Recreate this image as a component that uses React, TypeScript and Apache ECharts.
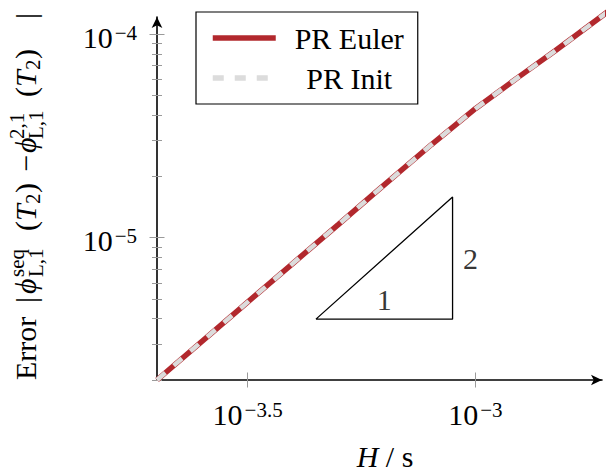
import React, { useEffect, useRef } from 'react';
import * as echarts from 'echarts';

const F = 'Liberation Serif, DejaVu Serif, serif';

// ---- data ----
const stepSizes = [2e-4, 3e-4, 4e-4, 5e-4, 6e-4, 8e-4, 1e-3, 1.25e-3, 1.5e-3, 2e-3];
const errEuler = [2.0e-6, 4.36e-6, 7.57e-6, 1.16e-5, 1.65e-5, 2.86e-5, 4.3e-5, 6.2e-5, 8.3e-5, 1.34e-4];
const errInit = [2.0e-6, 4.36e-6, 7.57e-6, 1.16e-5, 1.65e-5, 2.86e-5, 4.3e-5, 6.2e-5, 8.3e-5, 1.34e-4];
const seriesNames = ['PR Euler', 'PR Init'];

// slope triangle (order 2)
const triH = [4.4668e-4, 8.9125e-4, 8.9125e-4, 4.4668e-4];
const triErr = [3.981e-6, 3.981e-6, 1.5849e-5, 3.981e-6];
const slopeLabelH = [6.3096e-4, 8.9125e-4];
const slopeLabelErr = [3.981e-6, 7.9433e-6];
const slopeLabelText = ['1', '2'];

// axes (decimal exponents)
const xRange = [2e-4, 1.8972e-3];
const yRange = [2e-6, 1.2133e-4];
const xTickExps = [-3.5, -3];
const yTickExps = [-5, -4];
const yMinorTicks = [2e-6, 3e-6, 4e-6, 5e-6, 6e-6, 7e-6, 8e-6, 9e-6, 2e-5, 3e-5, 4e-5, 5e-5, 6e-5, 7e-5, 8e-5, 9e-5];

const lg = (v: number) => Math.log10(v);

const RED = '#b2282d';
const GRAY = '#dcdcdc';
const TICK = '#9a9a9a';
const FS = 30;
const SS = 21;

const labelRich = {
  b: { fontSize: FS, fontFamily: F, fontStyle: 'normal', fontWeight: 'normal', lineHeight: 30, color: '#000' },
  s: { fontSize: SS, fontFamily: F, fontStyle: 'normal', fontWeight: 'normal', lineHeight: 14, verticalAlign: 'top', color: '#000', padding: [0, 0, 0, 2] },
};
const fmtPow = (v: number) => `{b|10}{s|−${Math.abs(v)}}`;

function yTitle() {
  const B = 36, SUP = 24, SUB = 43, SUB2 = 40.5;
  const pieces: [string, number, number, number, boolean][] = [
    ['Error', 380, B, FS, false],
    ['|', 303, B, FS, false],
    ['ϕ', 294, B, FS, true],
    ['seq', 277, SUP, SS, false],
    ['L,1', 277, SUB, SS, false],
    ['(', 231, B, FS, false],
    ['T', 221, B, FS, true],
    ['2', 204, SUB2, SS, false],
    [')', 193, B, FS, false],
    ['−', 171.5, B, FS, false],
    ['ϕ', 153, B, FS, true],
    ['2,1', 139, SUP, SS, false],
    ['L,1', 139, SUB, SS, false],
    ['(', 97, B, FS, false],
    ['T', 87, B, FS, true],
    ['2', 70, SUB2, SS, false],
    [')', 59, B, FS, false],
    ['|', 19, B, FS, false],
  ];
  return pieces.map(([text, y, bx, size, it]) => ({
    type: 'text',
    x: bx - 0.3375 * size,
    y,
    rotation: Math.PI / 2,
    silent: true,
    style: {
      text,
      fontSize: size,
      fontFamily: F,
      fontStyle: it ? 'italic' : 'normal',
      fill: '#000',
      align: 'left',
      verticalAlign: 'middle',
      textAlign: 'left',
      textVerticalAlign: 'middle',
    },
  }));
}

function buildOption() {
  const xMin = lg(xRange[0]), xMax = lg(xRange[1]);
  const yMin = lg(yRange[0]), yMax = lg(yRange[1]);
  const yMinorLogs = yMinorTicks.map(lg);

  const baseX = { type: 'value', min: xMin, max: xMax, position: 'bottom', offset: 0, splitLine: { show: false } };
  const baseY = { type: 'value', min: yMin, max: yMax, position: 'left', offset: 0, splitLine: { show: false } };

  const xAxis = [
    {
      ...baseX,
      axisLine: { show: true, onZero: false, symbol: ['none', 'arrow'], symbolSize: [8, 11], lineStyle: { color: '#000', width: 1.6 } },
      axisTick: { show: true, customValues: xTickExps, length: 7.5, inside: false, lineStyle: { color: TICK, width: 1 } },
      axisLabel: { show: true, customValues: xTickExps, formatter: fmtPow, rich: labelRich, fontFamily: F, fontSize: FS, color: '#000', margin: 13, padding: [6, 0, 0, 0] },
      name: '{i|H} / s',
      nameLocation: 'middle',
      nameGap: 63,
      nameTextStyle: {
        fontSize: FS, fontFamily: F, color: '#000', lineHeight: 26, padding: [0, 0, 0, 11],
        rich: { i: { fontSize: FS, fontFamily: F, fontStyle: 'italic', color: '#000', lineHeight: 26 } },
      },
    },
    {
      ...baseX,
      axisLine: { show: false, onZero: false },
      axisTick: { show: true, customValues: xTickExps, length: 7.5, inside: true, lineStyle: { color: TICK, width: 1 } },
      axisLabel: { show: false },
    },
  ];

  const yAxis = [
    {
      ...baseY,
      axisLine: { show: true, onZero: false, symbol: ['none', 'arrow'], symbolSize: [8, 11], lineStyle: { color: '#000', width: 1.6 } },
      axisTick: { show: true, customValues: yTickExps, length: 7.5, inside: false, lineStyle: { color: TICK, width: 1 } },
      axisLabel: { show: true, customValues: yTickExps, formatter: fmtPow, rich: labelRich, fontFamily: F, fontSize: FS, color: '#000', margin: 20, padding: [6, 0, 0, 0] },
    },
    {
      ...baseY,
      axisLine: { show: false, onZero: false },
      axisTick: { show: true, customValues: yTickExps, length: 7.5, inside: true, lineStyle: { color: TICK, width: 1 } },
      axisLabel: { show: false },
    },
    {
      ...baseY,
      axisLine: { show: false, onZero: false },
      axisTick: { show: true, customValues: yMinorLogs, length: 5, inside: false, lineStyle: { color: TICK, width: 1 } },
      axisLabel: { show: false },
    },
    {
      ...baseY,
      axisLine: { show: false, onZero: false },
      axisTick: { show: true, customValues: yMinorLogs, length: 5, inside: true, lineStyle: { color: TICK, width: 1 } },
      axisLabel: { show: false },
    },
  ];

  const toPts = (hs: number[], es: number[]) => hs.map((h, i) => [lg(h), lg(es[i])]);

  return {
    animation: false,
    backgroundColor: '#fff',
    textStyle: { fontFamily: F },
    grid: { left: 157, top: 17, width: 445, height: 363, outerBoundsMode: 'none', containLabel: false },
    xAxis,
    yAxis,
    legend: {
      show: true,
      orient: 'vertical',
      left: 196,
      top: 12,
      padding: [11, 0, 11, 14],
      itemGap: 10,
      itemWidth: 63,
      itemHeight: 14,
      borderColor: '#000',
      borderWidth: 1.2,
      borderRadius: 0,
      backgroundColor: '#fff',
      selectedMode: false,
      itemStyle: { opacity: 0 },
      data: [
        { name: seriesNames[0], lineStyle: { width: 5.5 }, itemStyle: { opacity: 0 } },
        { name: seriesNames[1], lineStyle: { width: 5.5 }, itemStyle: { opacity: 0 } },
      ],
      formatter: (name: string) => `{c|${name}}`,
      textStyle: {
        fontSize: FS, fontFamily: F, color: '#000', lineHeight: 30,
        rich: { c: { width: 137, align: 'center', fontSize: FS, fontFamily: F, fontStyle: 'normal', fontWeight: 'normal', color: '#000', lineHeight: 30 } },
      },
    },
    graphic: yTitle(),
    series: [
      {
        name: 'triangle',
        type: 'line',
        data: toPts(triH, triErr),
        symbol: 'none',
        silent: true,
        clip: false,
        lineStyle: { color: '#000', width: 1.3 },
        itemStyle: { color: '#000' },
        z: 2,
      },
      {
        name: 'slopeLabels',
        type: 'scatter',
        data: slopeLabelH.map((h, i) => ({
          value: [lg(h), lg(slopeLabelErr[i])],
          label: {
            show: true,
            formatter: slopeLabelText[i],
            position: i === 0 ? 'top' : 'right',
            distance: i === 0 ? 5 : 10.5,
            fontSize: FS,
            fontFamily: F,
            color: '#000',
            lineHeight: 30,
          },
        })),
        symbolSize: 0,
        silent: true,
        z: 2,
      },
      {
        name: seriesNames[0],
        type: 'line',
        data: toPts(stepSizes, errEuler),
        symbol: 'none',
        silent: true,
        clip: false,
        lineStyle: { color: RED, width: 5.5, cap: 'butt' },
        itemStyle: { color: RED },
        z: 3,
      },
      {
        name: seriesNames[1],
        type: 'line',
        data: toPts(stepSizes, errInit),
        symbol: 'none',
        silent: true,
        clip: false,
        lineStyle: { color: GRAY, width: 4.5, type: [11, 11], cap: 'butt' },
        itemStyle: { color: GRAY },
        z: 4,
      },
    ],
  };
}

export default function App() {
  const ref = useRef<HTMLDivElement>(null);
  useEffect(() => {
    if (!ref.current) return;
    const chart = echarts.init(ref.current, null, { renderer: 'svg' });
    chart.setOption(buildOption() as any);
    return () => chart.dispose();
  }, []);
  return <div ref={ref} style={{ position: 'absolute', left: 0, top: 0, width: 607, height: 473 }} />;
}
